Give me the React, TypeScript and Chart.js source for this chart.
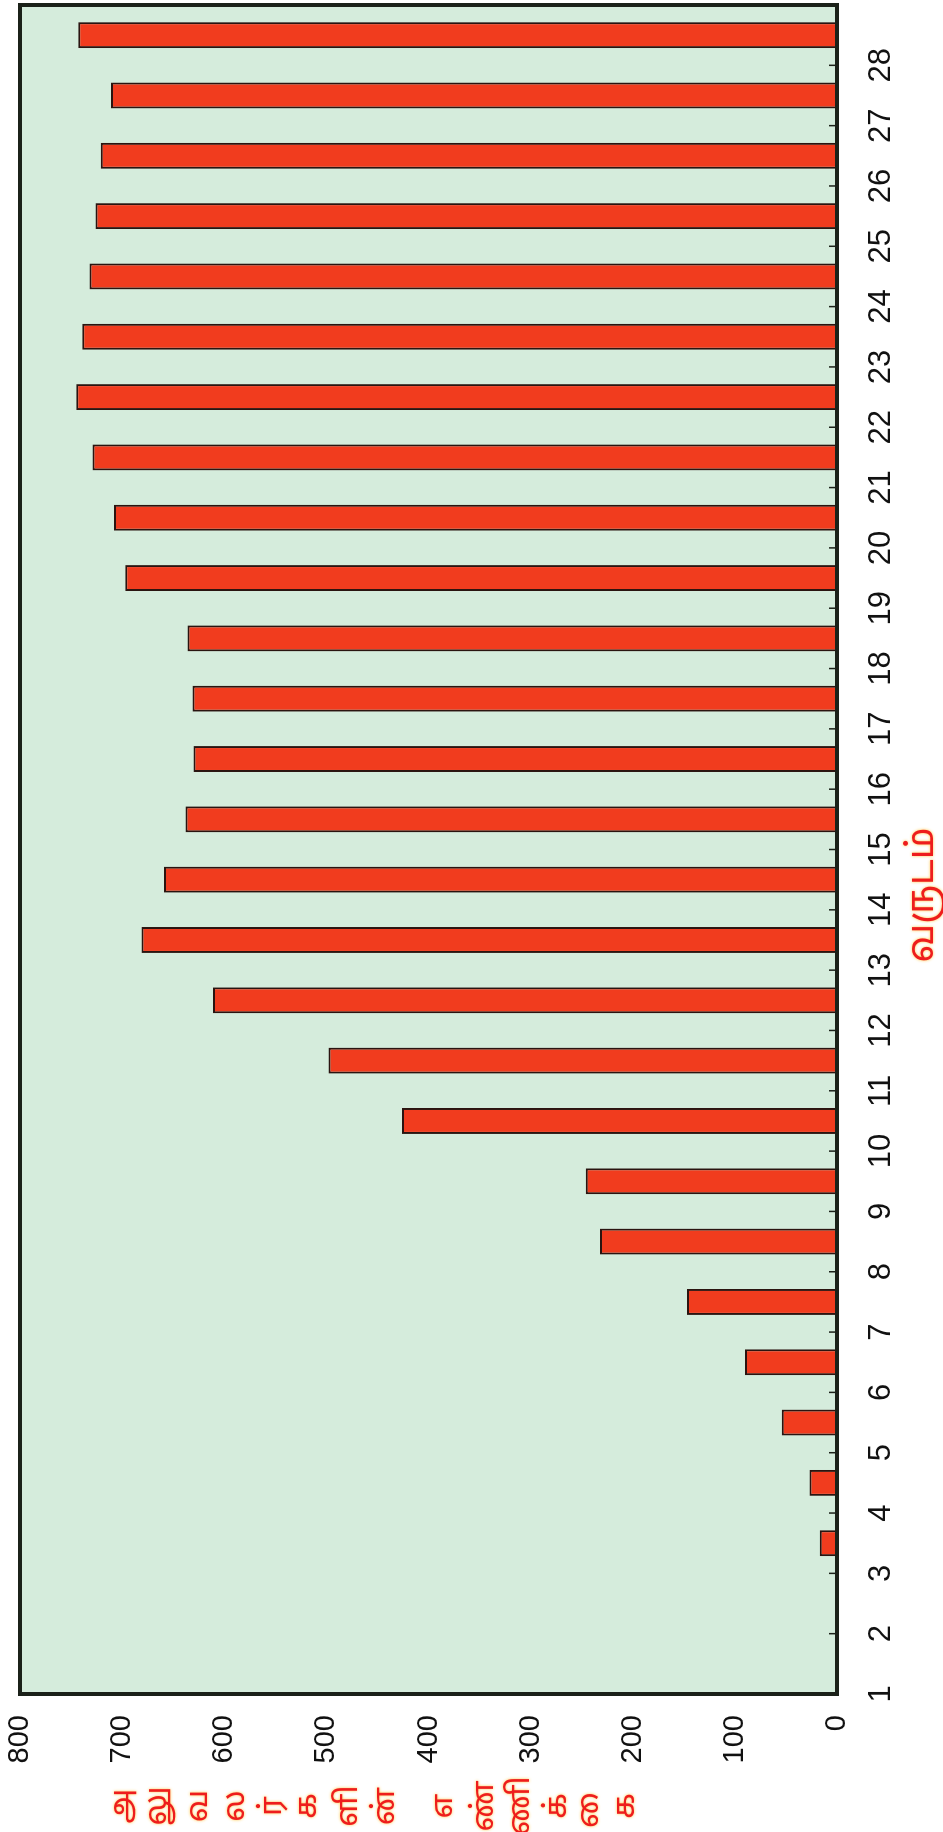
import React, { useEffect, useRef } from 'react';
import { Chart, registerables } from 'chart.js';

Chart.register(...registerables);

// ---- data ----
const years = [1, 2, 3, 4, 5, 6, 7, 8, 9, 10, 11, 12, 13, 14, 15, 16, 17, 18, 19, 20, 21, 22, 23, 24, 25, 26, 27, 28];
const yearLabels = years.map(String);
const staffCounts = [0, 0, 17, 27, 54, 90, 147, 232, 246, 426, 498, 611, 681, 659, 638, 630, 631, 636, 697, 708, 729, 745, 739, 732, 726, 721, 711, 743];
const valueMin = 0;
const valueMax = 800;
const valueStep = 100;
const xTitle = 'வருடம்';
const yTitleGlyphs = ['அ', 'லு', 'வ', 'ல', 'ர்', 'க', 'ளி', 'ன்', '', 'எ', 'ண்', 'ணி', 'க்', '\u00A0ை', 'க'];

// ---- styles ----
const NUM_FONT = "'Liberation Sans', Arial, Helvetica, sans-serif";
const TAMIL_FONT = "'Noto Sans Tamil', 'Lohit Tamil', 'Noto Sans', sans-serif";
const PLOT_BG = 'rgb(213, 236, 220)';
const BAR_FILL = 'rgb(241, 60, 30)';
const BAR_EDGE = '#2a1410';
const FRAME = '#1b2119';
const TITLE_RED = '#ee1d1d';

const CANVAS_W = 1832;
const CANVAS_H = 943;

function fillCentered(ctx: CanvasRenderingContext2D, text: string, cx: number, cy: number) {
  const m = ctx.measureText(text);
  const asc = m.actualBoundingBoxAscent;
  const desc = m.actualBoundingBoxDescent;
  ctx.fillText(text, cx, cy + (asc - desc) / 2);
}

const decor = {
  id: 'decor',
  beforeDraw(chart: any) {
    const { ctx, chartArea: a } = chart;
    ctx.save();
    ctx.fillStyle = '#ffffff';
    ctx.fillRect(0, 0, chart.width, chart.height);
    ctx.fillStyle = PLOT_BG;
    ctx.fillRect(a.left, a.top, a.right - a.left, a.bottom - a.top);
    ctx.restore();
  },
  afterDatasetsDraw(chart: any) {
    const { ctx, chartArea: a } = chart;
    const xs = chart.scales.xt;
    ctx.save();
    ctx.strokeStyle = FRAME;
    ctx.lineWidth = 1.5;
    xs.ticks.forEach((t: any) => {
      if (!years.includes(t.value)) return;
      const px = xs.getPixelForValue(t.value);
      ctx.beginPath();
      ctx.moveTo(px, a.bottom);
      ctx.lineTo(px, a.bottom - 8);
      ctx.stroke();
    });
    ctx.lineWidth = 4;
    ctx.strokeRect(a.left, a.top, a.right - a.left, a.bottom - a.top);
    ctx.restore();
  },
  afterDraw(chart: any) {
    const { ctx, chartArea: a } = chart;
    ctx.save();
    ctx.fillStyle = TITLE_RED;
    ctx.shadowColor = 'rgba(255, 190, 40, 0.9)';
    ctx.shadowBlur = 3;
    ctx.textAlign = 'center';
    ctx.textBaseline = 'alphabetic';
    // x axis title
    ctx.font = `37px ${TAMIL_FONT}`;
    fillCentered(ctx, xTitle, a.left + 799, a.bottom + 87);
    // y axis title, stacked glyphs
    ctx.font = `31px ${TAMIL_FONT}`;
    let y = a.top + 105;
    yTitleGlyphs.forEach((g) => {
      if (g === '') {
        y += 26;
        return;
      }
      fillCentered(ctx, g, 26, y);
      y += 36.5;
    });
    ctx.restore();
  },
};

export default function App() {
  const ref = useRef<HTMLCanvasElement>(null);

  useEffect(() => {
    const canvas = ref.current;
    if (!canvas) return;
    const chart = new Chart(canvas, {
      type: 'bar',
      data: {
        labels: yearLabels,
        datasets: [
          {
            data: staffCounts,
            backgroundColor: BAR_FILL,
            borderColor: BAR_EDGE,
            borderWidth: 2,
            borderSkipped: 'start',
            barPercentage: 0.43,
            categoryPercentage: 1,
            xAxisID: 'x',
            yAxisID: 'y',
          },
        ],
      },
      options: {
        responsive: false,
        animation: false,
        devicePixelRatio: 1,
        layout: { padding: { top: 20, right: 5, bottom: 0, left: 0 } },
        plugins: {
          legend: { display: false },
          tooltip: { enabled: false },
          title: { display: false },
        },
        scales: {
          x: {
            type: 'category',
            display: false,
            offset: true,
            grid: { display: false },
          },
          xt: {
            type: 'linear',
            position: 'bottom',
            offset: false,
            min: years[0],
            max: years[years.length - 1] + 1,
            grid: { display: false, drawTicks: false, offset: false },
            border: { display: false },
            ticks: {
              stepSize: 1,
              autoSkip: false,
              maxRotation: 0,
              minRotation: 0,
              padding: 26,
              color: '#111111',
              font: { family: NUM_FONT, size: 31 },
              callback: (v: any) => (years.includes(v) ? String(v) : ''),
            },
            afterFit: (s: any) => {
              s.height = 106;
              s.paddingLeft = 0;
              s.paddingRight = 0;
            },
          },
          y: {
            type: 'linear',
            position: 'left',
            min: valueMin,
            max: valueMax,
            grid: { display: false, drawTicks: false },
            border: { display: false },
            ticks: {
              stepSize: valueStep,
              padding: 21,
              color: '#111111',
              font: { family: NUM_FONT, size: 29 },
            },
            afterFit: (s: any) => {
              s.width = 138;
              s.paddingTop = 0;
              s.paddingBottom = 0;
            },
          },
        },
      },
      plugins: [decor],
    } as any);
    return () => chart.destroy();
  }, []);

  return (
    <div
      style={{
        position: 'fixed',
        left: 0,
        top: 0,
        width: 943,
        height: 1832,
        overflow: 'hidden',
        background: '#ffffff',
      }}
    >
      <canvas
        ref={ref}
        width={CANVAS_W}
        height={CANVAS_H}
        style={{
          position: 'absolute',
          left: 0,
          top: 0,
          width: `${CANVAS_W}px`,
          height: `${CANVAS_H}px`,
          transformOrigin: '0 0',
          transform: `translate(0px, ${CANVAS_W}px) rotate(-90deg)`,
        }}
      />
    </div>
  );
}
